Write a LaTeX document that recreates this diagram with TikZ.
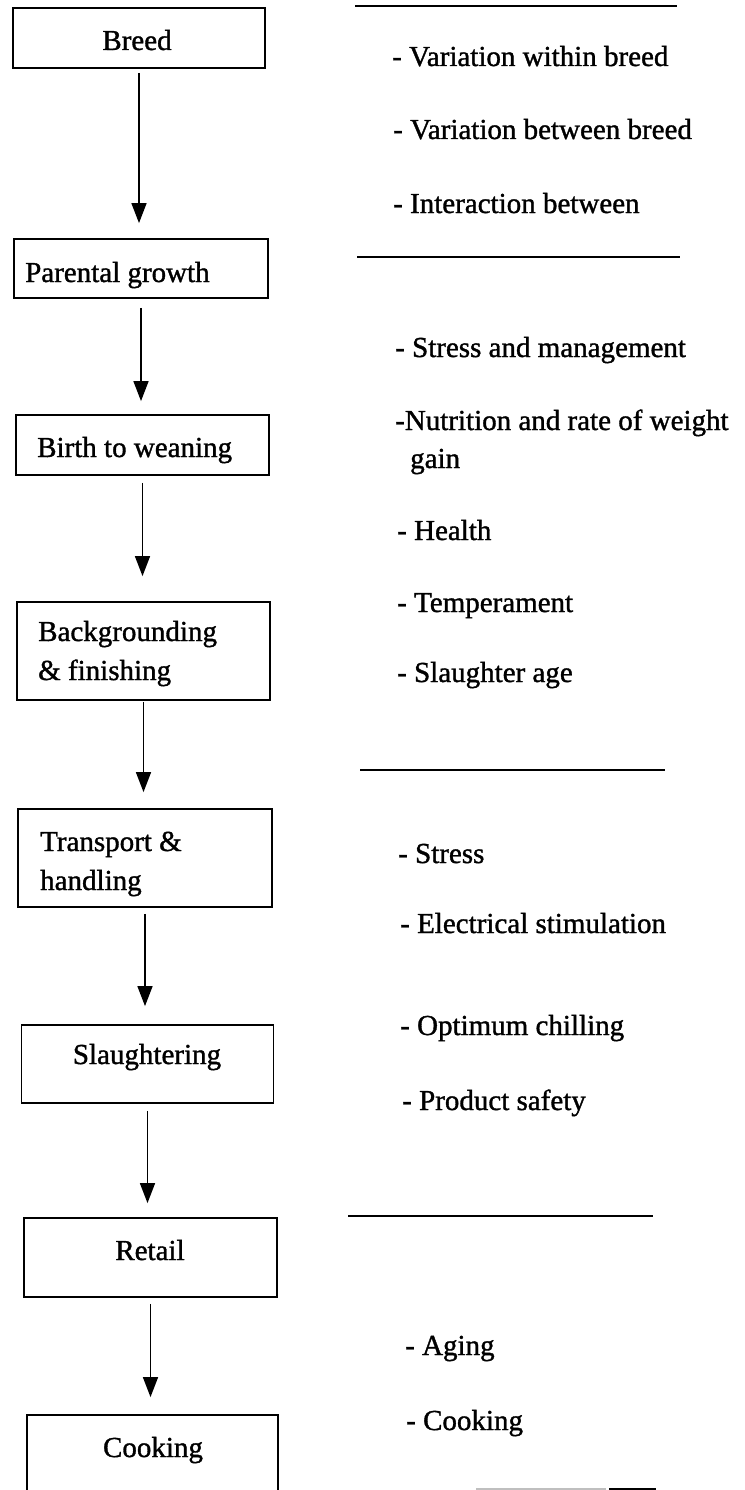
\documentclass[tikz,border=0pt]{standalone}
\usepackage{fontspec}
\setmainfont{Liberation Serif}[BoldFont={Liberation Serif}, BoldFeatures={FakeBold=1.2}]
\usetikzlibrary{arrows.meta}

\tikzset{
  stagebox/.style={draw, line width=1.8, inner sep=0pt},
  stagetext/.style={inner sep=0pt, font=\fontsize{29}{39}\selectfont\bfseries, align=left},
  factortext/.style={anchor=base west, inner sep=0pt, font=\fontsize{29}{38}\selectfont\bfseries, align=left},
  flow/.style={line width=1.5, -{Triangle[length=20pt,width=15pt]}, shorten <=6pt, shorten >=15pt},
  seprule/.style={line width=2.5},
}

\begin{document}
\begin{tikzpicture}[x=1pt,y=1pt,yscale=-1,xscale=1]
  \path[use as bounding box] (0,0) rectangle (744,1490);
  \clip (0,0) rectangle (744,1490);

  %Shape: Rectangle
  \node [stagebox, minimum width=252, minimum height=60] (breed) at (139,38) {};
  %Shape: Rectangle
  \node [stagebox, minimum width=254, minimum height=59] (parental) at (141,268.5) {};
  %Shape: Rectangle
  \node [stagebox, minimum width=253, minimum height=60] (birth) at (142.5,445) {};
  %Shape: Rectangle
  \node [stagebox, minimum width=253, minimum height=98] (backgr) at (143.5,651) {};
  %Shape: Rectangle
  \node [stagebox, minimum width=254, minimum height=98] (transport) at (145,858) {};
  %Shape: Rectangle
  \node [stagebox, minimum width=252, minimum height=78] (slaughter) at (147.5,1064) {};
  %Shape: Rectangle
  \node [stagebox, minimum width=253, minimum height=79] (retail) at (150.5,1257.5) {};
  %Shape: Rectangle
  \node [stagebox, minimum width=251, minimum height=100] (cooking) at (152.5,1465) {};

  %Straight Lines
  \draw [flow, shorten <=4pt] (breed.south) -- (breed.south |- parental.north);
  %Straight Lines
  \draw [flow, shorten <=9pt, shorten >=13pt] (parental.south) -- (parental.south |- birth.north);
  %Straight Lines
  \draw [flow, shorten <=7pt, shorten >=25pt] (birth.south) -- (birth.south |- backgr.north);
  %Straight Lines
  \draw [flow, shorten <=1pt, shorten >=16pt] (backgr.south) -- (backgr.south |- transport.north);
  %Straight Lines
  \draw [flow, shorten >=18pt] (transport.south) -- (transport.south |- slaughter.north);
  %Straight Lines
  \draw [flow, shorten <=7pt, shorten >=14pt] (slaughter.south) -- (slaughter.south |- retail.north);
  %Straight Lines
  \draw [flow, shorten >=17pt] (retail.south) -- (retail.south |- cooking.north);

  %Straight Lines
  \draw [seprule] (355,6) -- (677,6) ;
  %Straight Lines
  \draw [seprule] (357,257) -- (680,257) ;
  %Straight Lines
  \draw [seprule] (360,770) -- (665,770) ;
  %Straight Lines
  \draw [seprule] (348,1216) -- (653,1216) ;
  %Straight Lines
  \draw [seprule, color=black!25] (476,1489.5) -- (606,1489.5) ;
  \draw [seprule] (609,1489.5) -- (656,1489.5) ;

  % Text Node
  \node [stagetext, anchor=base] (breedtxt) at (137,50) {Breed};
  % Text Node
  \node [stagetext, anchor=base west] (parentaltxt) at (25,282) {Parental growth};
  % Text Node
  \node [stagetext, anchor=base west] (birthtxt) at (37,457) {Birth to weaning};
  % Text Node
  \node [stagetext, anchor=base west] (backgrtxt) at (38,680) {Backgrounding\\\& finishing};
  % Text Node
  \node [stagetext, anchor=base west] (transporttxt) at (40,890) {Transport \&\\handling};
  % Text Node
  \node [stagetext, anchor=base] (slaughtertxt) at (147,1064) {Slaughtering};
  % Text Node
  \node [stagetext, anchor=base] (retailtxt) at (150,1260) {Retail};
  % Text Node
  \node [stagetext, anchor=base] (cookingtxt) at (153,1457) {Cooking};

  % Text Node
  \node [factortext] (within) at (392,66) {- Variation within breed};
  % Text Node
  \node [factortext] (between) at (393,139) {- Variation between breed};
  % Text Node
  \node [factortext] (interact) at (393,213) {- Interaction between};
  % Text Node
  \node [factortext] (stressmgmt) at (395,357) {- Stress and management};
  % Text Node
  \node [factortext] (nutrition) at (395,468) {-Nutrition and rate of weight\\\hspace*{15pt}gain};
  % Text Node
  \node [factortext] (health) at (397,540) {- Health};
  % Text Node
  \node [factortext] (temper) at (397,612) {- Temperament};
  % Text Node
  \node [factortext] (slage) at (397,682) {- Slaughter age};
  % Text Node
  \node [factortext] (stress) at (398,863) {- Stress};
  % Text Node
  \node [factortext] (elec) at (400,933) {- Electrical stimulation};
  % Text Node
  \node [factortext] (chill) at (400,1035) {- Optimum chilling};
  % Text Node
  \node [factortext] (safety) at (402,1110) {- Product safety};
  % Text Node
  \node [factortext] (aging) at (405,1355) {- Aging};
  % Text Node
  \node [factortext] (cook) at (406,1430) {- Cooking};

\end{tikzpicture}
\end{document}
